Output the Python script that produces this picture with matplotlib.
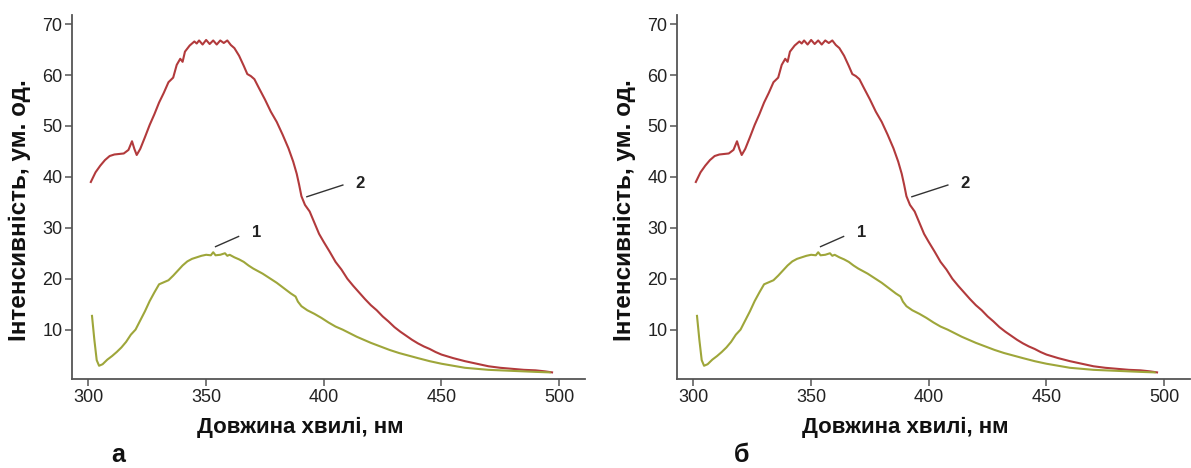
import matplotlib
matplotlib.use("Agg")
import matplotlib.pyplot as plt

plt.rcParams['font.family'] = ['Liberation Sans', 'DejaVu Sans']

# curve 2 (red)
wl2 = [301, 303, 305, 307, 309, 311, 313, 315, 317, 318.5, 319.5, 320.5, 322, 324, 326, 328,
       330, 332, 334, 336, 337.5, 339, 340, 341, 343, 345, 346, 347, 348.5, 350, 351.5, 353,
       354.5, 356, 357.5, 359, 360.5, 362, 364, 366, 367.5, 369, 370.5, 372.5, 375, 377.5,
       380, 382.5, 385, 387, 388.5, 389.5, 390.5, 392, 394, 396, 398, 400, 402.5, 405, 407.5,
       410, 412.5, 415, 417.5, 420, 422.5, 425, 427.5, 430, 432.5, 435, 437.5, 440, 442.5,
       445, 447.5, 450, 455, 460, 465, 470, 475, 480, 485, 490, 494, 497]
int2 = [39.0, 40.9, 42.2, 43.3, 44.1, 44.4, 44.5, 44.6, 45.3, 47.0, 45.5, 44.3, 45.5, 47.8,
        50.2, 52.3, 54.6, 56.5, 58.6, 59.5, 62.0, 63.2, 62.6, 64.6, 65.8, 66.6, 66.2, 66.8,
        66.0, 66.9, 66.1, 66.8, 66.0, 66.8, 66.3, 66.8, 65.9, 65.3, 63.8, 61.8, 60.2, 59.8,
        59.2, 57.4, 55.2, 52.8, 50.8, 48.3, 45.6, 43.0, 40.6, 38.5, 36.2, 34.5, 33.2, 31.0,
        28.8, 27.2, 25.3, 23.3, 21.8, 20.0, 18.6, 17.3, 16.0, 14.8, 13.8, 12.6, 11.6, 10.5,
        9.6, 8.8, 8.0, 7.3, 6.7, 6.2, 5.6, 5.1, 4.4, 3.8, 3.3, 2.8, 2.5, 2.3, 2.1, 2.0, 1.8, 1.6]

# curve 1 (green)
wl1 = [301.5, 302.5, 303.5, 304.5, 306, 308, 310, 312, 314, 316, 318, 320, 322, 324, 326, 328,
       330, 332, 334, 336, 338, 340, 342, 344, 346, 348, 350, 352, 353, 354, 356, 358, 359,
       360, 362, 364, 366, 368, 370, 372, 374, 376, 378, 380, 382, 384, 386, 388, 389, 390.5,
       393, 396, 399, 402, 405, 408, 411, 414, 417, 420, 424, 428, 432, 436, 440, 445, 450,
       455, 460, 465, 470, 475, 480, 485, 490, 496]
int1 = [12.7, 8.0, 4.0, 2.9, 3.2, 4.1, 4.8, 5.6, 6.5, 7.6, 9.0, 10.0, 11.8, 13.6, 15.6, 17.3,
        18.9, 19.3, 19.7, 20.6, 21.6, 22.6, 23.4, 23.9, 24.2, 24.5, 24.7, 24.6, 25.2, 24.6,
        24.7, 25.0, 24.5, 24.7, 24.2, 23.8, 23.3, 22.6, 22.0, 21.5, 21.0, 20.4, 19.8, 19.2,
        18.5, 17.8, 17.1, 16.5, 15.5, 14.6, 13.8, 13.1, 12.3, 11.4, 10.6, 10.0, 9.3, 8.6, 8.0,
        7.4, 6.7, 6.0, 5.4, 4.9, 4.4, 3.8, 3.3, 2.9, 2.5, 2.3, 2.1, 2.0, 1.9, 1.8, 1.7, 1.6]

xticks = [300, 350, 400, 450, 500]
yticks = [10, 20, 30, 40, 50, 60, 70]
panel_names = ["а", "б"]

fig = plt.figure(figsize=(11.91, 4.68), dpi=100)
lefts = [72 / 1191, 677 / 1191]
W = 513 / 1191
B = 89 / 468
H = 364 / 468

axcol = '#555555'
for i in range(2):
    ax = fig.add_axes([lefts[i], B, W, H])
    ax.plot(wl2, int2, color='#b23a3c', lw=1.5)
    ax.plot(wl1, int1, color='#9ea63a', lw=1.5)
    ax.set_xlim(293.0, 511.0)
    ax.set_ylim(0.3, 71.8)
    ax.set_xticks(xticks)
    ax.set_yticks(yticks)
    for s in ['top', 'right']:
        ax.spines[s].set_visible(False)
    for s in ['left', 'bottom']:
        ax.spines[s].set_color(axcol)
        ax.spines[s].set_linewidth(1.3)
    ax.tick_params(direction='out', length=5, width=1.1, color=axcol,
                   labelsize=13, labelcolor='#222222', pad=2)

    # curve number markers
    ax.plot([354.0, 363.8], [26.3, 28.3], color='#333333', lw=1.0)
    ax.text(371.5, 29.0, "1", fontsize=12, fontweight='bold', color='#222222',
            ha='center', va='center')
    ax.plot([392.8, 408.1], [36.1, 38.4], color='#333333', lw=1.0)
    ax.text(415.3, 38.8, "2", fontsize=12, fontweight='bold', color='#222222',
            ha='center', va='center')

    ax.set_xlabel("Довжина хвилі, нм", fontsize=16, fontweight='bold', color='#111111')
    ax.xaxis.set_label_coords(0.444, -0.105)
    ax.set_ylabel("Інтенсивність, ум. од.", fontsize=17.5, fontweight='bold', color='#111111')
    ax.yaxis.set_label_coords(-0.08, 0.465)

fig.text(118 / 1191, 1 - 455 / 468, panel_names[0], fontsize=18, fontweight='bold',
         ha='center', va='center', color='#111111')
fig.text(742 / 1191, 1 - 455 / 468, panel_names[1], fontsize=18, fontweight='bold',
         ha='center', va='center', color='#111111')

fig.savefig("out.png", dpi=100)
